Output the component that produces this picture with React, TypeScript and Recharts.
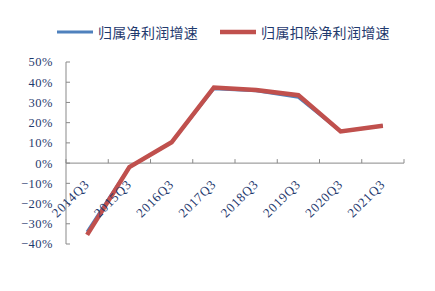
import React from "react";
import { LineChart, Line, XAxis, YAxis, ReferenceLine } from "recharts";

// 报告期
const quarters = ["2014Q3", "2015Q3", "2016Q3", "2017Q3", "2018Q3", "2019Q3", "2020Q3", "2021Q3"];
// 归属净利润增速 (%)
const netProfitGrowth = [-34, -2, 10.3, 36.8, 35.8, 32.5, 15.7, 18.5];
// 归属扣除净利润增速 (%)
const deductedProfitGrowth = [-35.5, -2, 10.3, 37.4, 36.1, 33.6, 15.7, 18.5];
const yTicks = [-40, -30, -20, -10, 0, 10, 20, 30, 40, 50];

const W = 435;
const H = 291;
const M = { top: 62, right: 31, bottom: 46, left: 0 };
const Y_AXIS_W = 66;
const Y_MIN = -40;
const Y_MAX = 50;
const plotH = H - M.top - M.bottom - 1;
const plotW = W - M.right - M.left - Y_AXIS_W;
const zeroY = M.top + (plotH * Y_MAX) / (Y_MAX - Y_MIN);
const band = plotW / quarters.length;

const NAVY = "#1f3a6e";
const AXIS = "#898989";
const BLUE = "#4f81bd";
const RED = "#c0504d";

const data = quarters.map((q, i) => ({
  q,
  net: netProfitGrowth[i],
  deducted: deductedProfitGrowth[i],
}));

function QuarterTick(props: any) {
  const { x, index, payload } = props;
  const left = x - band / 2;
  const isLast = index === quarters.length - 1;
  const ax = x + 3;
  const ay = zeroY + 22;
  return (
    <g>
      <line x1={left} x2={left} y1={zeroY - 4} y2={zeroY} stroke={AXIS} />
      {isLast && <line x1={x + band / 2} x2={x + band / 2} y1={zeroY - 4} y2={zeroY} stroke={AXIS} />}
      <text
        x={ax}
        y={ay}
        textAnchor="end"
        transform={`rotate(-45 ${ax} ${ay})`}
        fill={NAVY}
        fontSize={13}
        letterSpacing={0.8}
        fontFamily="'Liberation Serif', 'Times New Roman', serif"
      >
        {payload.value}
      </text>
    </g>
  );
}

function LegendBox() {
  const items = [
    { label: "归属净利润增速", color: BLUE, w: 3 },
    { label: "归属扣除净利润增速", color: RED, w: 4.5 },
  ];
  return (
    <div style={{ position: "absolute", top: 22, left: 57, display: "flex", alignItems: "center", gap: 22 }}>
      {items.map((it) => (
        <div key={it.label} style={{ display: "flex", alignItems: "center" }}>
          <svg width={36} height={8} style={{ marginRight: 5 }}>
            <line x1={0} x2={36} y1={4} y2={4} stroke={it.color} strokeWidth={it.w} />
          </svg>
          <span style={{ color: NAVY, fontSize: 14, fontFamily: "'Noto Sans CJK SC', sans-serif", letterSpacing: 0.3 }}>
            {it.label}
          </span>
        </div>
      ))}
    </div>
  );
}

export default function App() {
  return (
    <div style={{ position: "absolute", left: 0, top: 0, width: W, height: H, background: "#fff" }}>
      <LineChart width={W} height={H} data={data} margin={M}>
        <YAxis
          width={Y_AXIS_W}
          domain={[Y_MIN, Y_MAX]}
          ticks={yTicks}
          interval={0}
          tickFormatter={(v: number) => (v < 0 ? `\u2212${Math.abs(v)}%` : `${v}%`)}
          axisLine={{ stroke: AXIS }}
          tickLine={{ stroke: AXIS }}
          tickSize={-4}
          tickMargin={17}
          tick={{ fill: NAVY, fontSize: 12.5, letterSpacing: 0.5, fontFamily: "'Liberation Serif', 'Times New Roman', serif" }}
        />
        <XAxis
          dataKey="q"
          height={1}
          axisLine={false}
          tickLine={false}
          interval={0}
          padding={{ left: band / 2, right: band / 2 }}
          tick={<QuarterTick />}
        />
        <ReferenceLine y={0} stroke={AXIS} />
        <Line dataKey="net" stroke={BLUE} strokeWidth={3} dot={false} isAnimationActive={false} />
        <Line dataKey="deducted" stroke={RED} strokeWidth={4.5} dot={false} isAnimationActive={false} />
      </LineChart>
      <LegendBox />
    </div>
  );
}
